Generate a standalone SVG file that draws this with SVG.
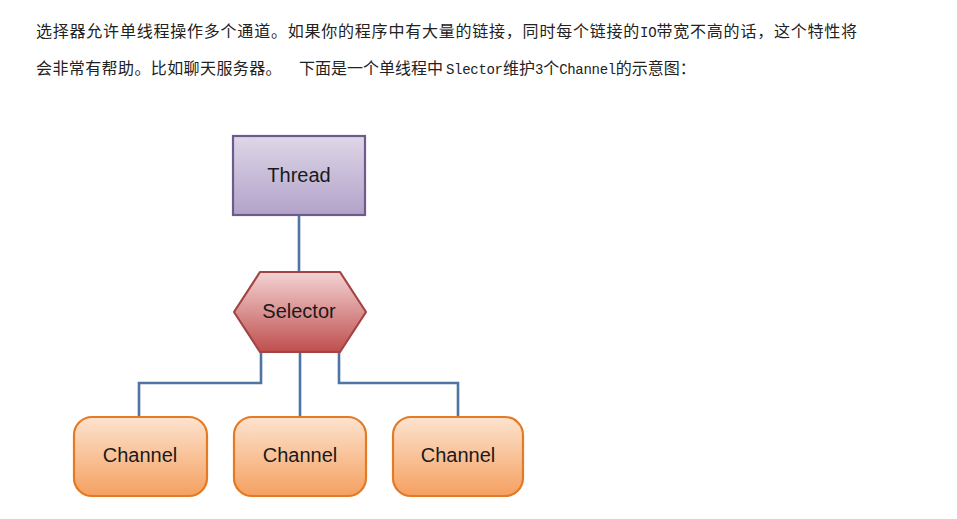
<svg xmlns="http://www.w3.org/2000/svg" width="957" height="519" viewBox="0 0 957 519">
<style>
.para{font-family:"Noto Sans CJK SC","Liberation Serif",serif;font-size:16px;fill:#222;}
.mono{font-family:"Liberation Mono",monospace;font-size:14px;}
.lbl{font-family:"Liberation Sans",Arial,sans-serif;font-size:20px;fill:#1a1a1a;text-anchor:middle;}
.conn{fill:none;stroke:#4d74a3;stroke-width:2.6;}
</style>
<defs>
<linearGradient id="gThread" x1="0" y1="0" x2="0" y2="1">
<stop offset="0" stop-color="#ded6e8"/><stop offset="1" stop-color="#b1a3c8"/>
</linearGradient>
<linearGradient id="gSel" x1="0" y1="0" x2="0" y2="1">
<stop offset="0" stop-color="#f4d3d3"/><stop offset="1" stop-color="#bf4e4e"/>
</linearGradient>
<linearGradient id="gCh" x1="0" y1="0" x2="0" y2="1">
<stop offset="0" stop-color="#fde3cf"/><stop offset="1" stop-color="#f5a060"/>
</linearGradient>
</defs>
<rect width="957" height="519" fill="#ffffff"/>
<g id="text">
<text class="para" x="36" y="37" letter-spacing="0.78">选择器允许单线程操作多个通道。如果你的程序中有大量的链接，同时每个链接的<tspan class="mono" letter-spacing="-0.2">IO</tspan>带宽不高的话，这个特性将</text>
<text class="para" y="74"><tspan x="36" letter-spacing="0.4">会非常有帮助。比如聊天服务器。</tspan><tspan x="299" letter-spacing="0">下面是一个单线程中</tspan><tspan class="mono" x="446" letter-spacing="-0.3">Slector</tspan><tspan x="503">维护</tspan><tspan class="mono" letter-spacing="-0.3">3</tspan><tspan>个</tspan><tspan class="mono" letter-spacing="-0.3">Channel</tspan><tspan>的示意图：</tspan></text>
</g>
<g id="connectors">
<line class="conn" x1="299" y1="215" x2="299" y2="272"/>
<polyline class="conn" points="261,352 261,383 139,383 139,417"/>
<line class="conn" x1="300" y1="352" x2="300" y2="417"/>
<polyline class="conn" points="339,352 339,383 458,383 458,417"/>
</g>
<g id="thread">
<rect x="233" y="136" width="132" height="79" fill="url(#gThread)" stroke="#6e5b8c" stroke-width="2.2"/>
<text class="lbl" x="299" y="182">Thread</text>
</g>
<g id="selector">
<polygon points="260,272 340,272 366,312 340,352 260,352 234,312" fill="url(#gSel)" stroke="#a34444" stroke-width="2.2" stroke-linejoin="round"/>
<text class="lbl" x="299" y="318">Selector</text>
</g>
<g id="channel1">
<rect x="74" y="417" width="133" height="79" rx="18" fill="url(#gCh)" stroke="#e57a24" stroke-width="2.2"/>
<text class="lbl" x="140" y="462">Channel</text>
</g>
<g id="channel2">
<rect x="234" y="417" width="132" height="79" rx="18" fill="url(#gCh)" stroke="#e57a24" stroke-width="2.2"/>
<text class="lbl" x="300" y="462">Channel</text>
</g>
<g id="channel3">
<rect x="393" y="417" width="130" height="79" rx="18" fill="url(#gCh)" stroke="#e57a24" stroke-width="2.2"/>
<text class="lbl" x="458" y="462">Channel</text>
</g>
</svg>
